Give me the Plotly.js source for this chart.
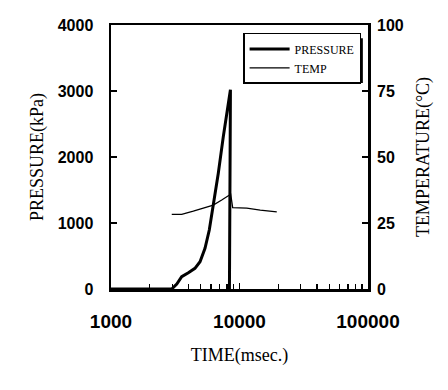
<!DOCTYPE html>
<html>
<head>
<meta charset="utf-8">
<script src="https://cdn.plot.ly/plotly-3.0.1.min.js"></script>
<style>html,body{margin:0;padding:0;background:#fff;}#chart{width:448px;height:390px;}</style>
</head>
<body>
<div id="chart"></div>
<script>
// Pressure (kPa) vs time (msec)
const pressureTime = [1000, 2970, 3250, 3550, 4000, 4500, 4930, 5390, 5820, 6250, 6840, 7480, 7950, 8500, 8350];
const pressureKPa  = [0,    0,    76,   187,  247,  313,  414,  616,  894,  1247, 1753, 2308, 2662, 3020, 0];
// Temperature (°C) vs time (msec)
const tempTime = [2970, 3550, 4370, 5230, 6250, 7270, 8190, 8540, 8850, 11400, 14500, 19500];
const tempC    = [28.3, 28.3, 29.5, 30.6, 31.8, 33.7, 35.3, 35.9, 30.8, 30.6,  29.9,  29.2];

const xTickVals = [1000, 10000, 100000];
const xTickText = ['1000', '10000', '100000'];
const yTickVals = [0, 1000, 2000, 3000, 4000];
const y2TickVals = [0, 25, 50, 75, 100];

const tickFont = {family: 'Liberation Sans, Arial, sans-serif', size: 16, color: '#000', weight: 'bold'};
const titleFont = {family: 'Liberation Serif, Times New Roman, serif', size: 18, color: '#000'};

const traces = [
  {x: pressureTime, y: pressureKPa, name: 'PRESSURE', type: 'scatter', mode: 'lines',
   line: {color: '#000', width: 3}, xaxis: 'x', yaxis: 'y'},
  {x: tempTime, y: tempC, name: 'TEMP', type: 'scatter', mode: 'lines',
   line: {color: '#000', width: 1.3}, xaxis: 'x', yaxis: 'y2'}
];

const layout = {
  width: 448, height: 390,
  margin: {l: 111, r: 80, t: 25, b: 101},
  paper_bgcolor: '#fff', plot_bgcolor: '#fff',
  showlegend: true,
  legend: {x: 0.514, y: 0.97, xanchor: 'left', yanchor: 'top',
           bgcolor: '#fff', bordercolor: '#000', borderwidth: 1.5, itemwidth: 40,
           font: {family: 'Liberation Serif, Times New Roman, serif', size: 12, color: '#000'}},
  shapes: [
    {type: 'rect', xref: 'paper', yref: 'paper', x0: 0.535, x1: 0.98, y0: 0.78, y1: 0.95,
     fillcolor: '#000', line: {width: 0}, layer: 'above'}
  ],
  xaxis: {type: 'log', range: [3, 5], tickvals: xTickVals, ticktext: xTickText,
          ticks: 'inside', ticklen: 6, tickwidth: 1.5, tickcolor: '#000',
          minor: {ticks: 'inside', ticklen: 5, tickwidth: 1.3, tickcolor: '#000', dtick: 'D1', showgrid: false},
          showline: true, linewidth: 2.5, linecolor: '#000', mirror: true,
          showgrid: false, zeroline: false, tickfont: {...tickFont, size: 19},
          ticklabelstandoff: 14,
          title: {text: 'TIME(msec.)', font: titleFont, standoff: 17}},
  yaxis: {range: [0, 4000], tickvals: yTickVals, ticks: 'inside', ticklen: 6, tickwidth: 1.5, tickcolor: '#000',
          showline: true, linewidth: 2.5, linecolor: '#000', mirror: true,
          showgrid: false, zeroline: false, tickfont: tickFont, ticklabelstandoff: 12,
          title: {text: 'PRESSURE(kPa)', font: titleFont, standoff: 10}},
  yaxis2: {range: [0, 100], tickvals: y2TickVals, overlaying: 'y', side: 'right', anchor: 'x',
           ticks: 'inside', ticklen: 6, tickwidth: 1.5, tickcolor: '#000',
           showline: false, showgrid: false, zeroline: false, tickfont: tickFont, ticklabelstandoff: 8,
           title: {text: 'TEMPERATURE(°C)', font: titleFont, standoff: 13}}
};

Plotly.newPlot('chart', traces, layout, {displayModeBar: false, staticPlot: true});
</script>
</body>
</html>
